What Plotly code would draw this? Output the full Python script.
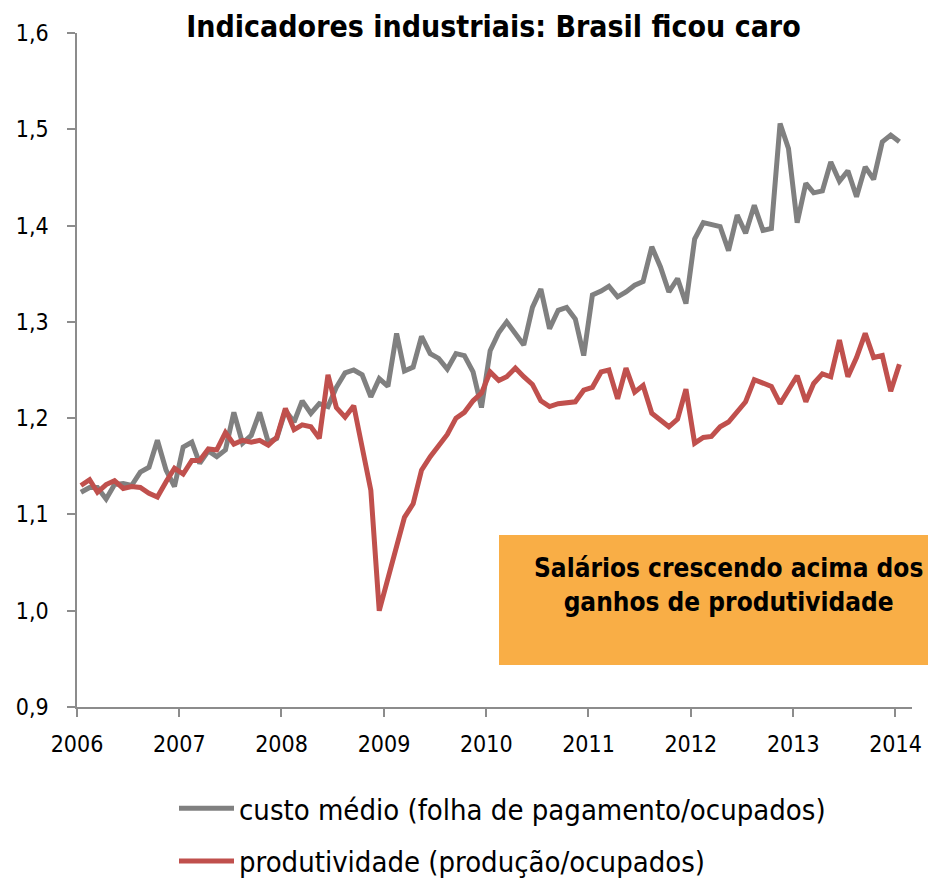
import plotly.graph_objects as go
import pandas as pd

# Monthly observations, Jan 2006 .. Jan 2014 (plotted mid-month)
months = pd.date_range("2006-01-01", periods=97, freq="MS") + pd.Timedelta(days=14)

custo_medio = [
    1.123, 1.128, 1.128, 1.116, 1.131, 1.132, 1.130, 1.144, 1.149, 1.177, 1.146, 1.129,  # 2006
    1.170, 1.175, 1.153, 1.166, 1.160, 1.167, 1.206, 1.174, 1.182, 1.206, 1.175, 1.179,  # 2007
    1.208, 1.196, 1.218, 1.205, 1.215, 1.212, 1.232, 1.247, 1.250, 1.245, 1.222, 1.241,  # 2008
    1.233, 1.288, 1.249, 1.253, 1.285, 1.267, 1.262, 1.251, 1.267, 1.265, 1.248, 1.211,  # 2009
    1.270, 1.289, 1.300, 1.288, 1.276, 1.315, 1.334, 1.293, 1.312, 1.315, 1.303, 1.265,  # 2010
    1.328, 1.332, 1.337, 1.326, 1.331, 1.338, 1.342, 1.378, 1.357, 1.331, 1.345, 1.319,  # 2011
    1.386, 1.403, 1.401, 1.399, 1.374, 1.411, 1.392, 1.421, 1.395, 1.397, 1.506, 1.480,  # 2012
    1.403, 1.444, 1.434, 1.436, 1.466, 1.446, 1.457, 1.430, 1.461, 1.448, 1.487, 1.494,  # 2013
    1.487,                                                                               # 2014
]

produtividade = [
    1.130, 1.136, 1.123, 1.131, 1.135, 1.127, 1.129, 1.128, 1.122, 1.118, 1.134, 1.148,  # 2006
    1.142, 1.156, 1.156, 1.168, 1.167, 1.185, 1.173, 1.177, 1.175, 1.177, 1.172, 1.180,  # 2007
    1.210, 1.188, 1.193, 1.191, 1.179, 1.245, 1.211, 1.201, 1.213, 1.172, 1.125, 1.000,  # 2008
    1.033, 1.066, 1.097, 1.111, 1.146, 1.160, 1.171, 1.183, 1.200, 1.206, 1.218, 1.226,  # 2009
    1.248, 1.239, 1.243, 1.252, 1.243, 1.235, 1.218, 1.212, 1.215, 1.216, 1.217, 1.229,  # 2010
    1.232, 1.248, 1.250, 1.220, 1.252, 1.227, 1.234, 1.205, 1.198, 1.191, 1.199, 1.230,  # 2011
    1.174, 1.180, 1.181, 1.191, 1.196, 1.206, 1.217, 1.240, 1.236, 1.233, 1.215, 1.230,  # 2012
    1.244, 1.217, 1.236, 1.246, 1.243, 1.281, 1.243, 1.263, 1.288, 1.263, 1.265, 1.228,  # 2013
    1.256,                                                                               # 2014
]

series_names = ["custo médio (folha de pagamento/ocupados)", "produtividade (produção/ocupados)"]
series_colors = ["#808080", "#C0504D"]
title_text = "Indicadores industriais: Brasil ficou caro"
note_lines = ["Salários crescendo acima dos", "ganhos de produtividade"]

FONT = "'DejaVu Sans Condensed', 'DejaVu Sans', sans-serif"
AXIS = "#8C8C8C"

OFF = 8  # page body margin
W, H = 936 - OFF, 881 - OFF
L, T = 77 - OFF, 33 - OFF
R = W - (912 - OFF)
B = H - (707 - OFF)
pw, ph = W - L - R, H - T - B

def px_x(px):  # reference screen pixel -> paper x
    return (px - OFF - L) / pw

def px_y(py):  # reference screen pixel -> paper y
    return (H - B - (py - OFF)) / ph

fig = go.Figure()
for name, vals, col, grp in zip(series_names, [custo_medio, produtividade], series_colors, ["a", "b"]):
    fig.add_trace(go.Scatter(
        x=months, y=vals, mode="lines", name=name, legendgroup=grp,
        line=dict(color=col, width=5),
    ))

fig.add_shape(type="rect", xref="paper", yref="paper",
              x0=px_x(499), x1=px_x(928), y0=px_y(665), y1=px_y(535),
              fillcolor="#F9AE46", line=dict(width=0), layer="above")
fig.add_annotation(xref="paper", yref="paper", x=px_x(728), y=px_y(585),
                   text="<br>".join(note_lines), showarrow=False,
                   font=dict(family=FONT, size=26, color="black", weight="bold"),
                   align="center", xanchor="center", yanchor="middle")

fig.update_layout(
    width=W, height=H,
    margin=dict(l=L, r=R, t=T, b=B, autoexpand=False),
    paper_bgcolor="white", plot_bgcolor="white",
    separators=", ",
    font=dict(family=FONT, size=23, color="black"),
    title=dict(text=title_text, x=px_x(493.5), xref="paper", y=1 - (26 - OFF) / H, yanchor="middle",
               xanchor="center", font=dict(family=FONT, size=30, color="black", weight="bold")),
    showlegend=True,
    legend=dict(orientation="v", xref="container", yref="container",
                x=(174 - OFF) / W, y=1 - (783 - OFF) / H, xanchor="left", yanchor="top",
                font=dict(family=FONT, size=29, color="black"), itemwidth=55,
                tracegroupgap=12, bgcolor="rgba(0,0,0,0)"),
    xaxis=dict(type="date", range=["2006-01-01", "2014-03-01"], tick0="2006-01-01", dtick="M12",
               tickformat="%Y", showgrid=False, zeroline=False, showline=True, linecolor=AXIS,
               linewidth=1.5, ticks="outside", ticklen=8, tickcolor=AXIS, tickwidth=1.5,
               ticklabelstandoff=8, automargin=False),
    yaxis=dict(range=[0.9, 1.6], dtick=0.1, tickformat=".1f", showgrid=False, zeroline=False,
               showline=True, linecolor=AXIS, linewidth=1.5, ticks="outside", ticklen=8,
               tickcolor=AXIS, tickwidth=1.5, ticklabelstandoff=14, automargin=False),
)

fig.write_html("out.html")
